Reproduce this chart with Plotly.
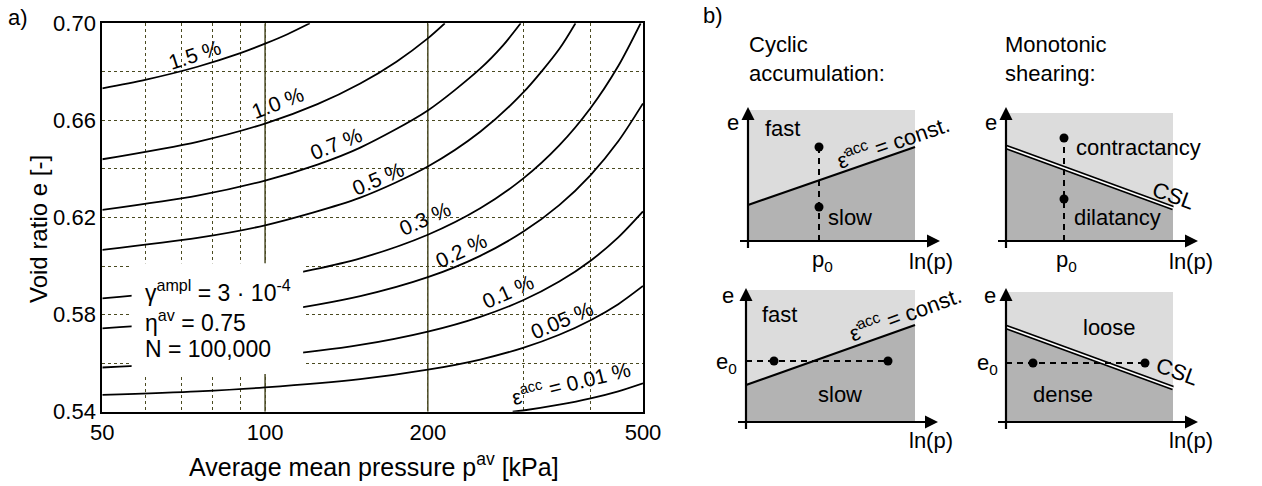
import math
import plotly.graph_objects as go

W, H = 1262, 486
FONT = "Liberation Sans, Arial, Helvetica, sans-serif"

# ---------------- panel a) data : iso-strain curves (p [kPa], e [-]) ----------------
p_15 = [50, 60, 75, 90, 100, 110, 121]
e_15 = [0.6732, 0.6767, 0.6821, 0.6877, 0.6916, 0.6955, 0.7000]

p_10 = [50, 75, 100, 125, 150, 175, 200, 215]
e_10 = [0.6440, 0.6512, 0.6587, 0.6667, 0.6752, 0.6842, 0.6938, 0.7000]

p_07 = [50, 75, 100, 125, 150, 200, 250, 275, 297]
e_07 = [0.6231, 0.6290, 0.6352, 0.6418, 0.6488, 0.6641, 0.6813, 0.6907, 0.7000]

p_05 = [50, 75, 100, 150, 200, 250, 300, 350, 375]
e_05 = [0.6067, 0.6116, 0.6168, 0.6282, 0.6410, 0.6553, 0.6714, 0.6894, 0.7000]

p_03 = [50, 75, 100, 150, 200, 250, 300, 350, 400, 450, 495]
e_03 = [0.5867, 0.5905, 0.5945, 0.6032, 0.6129, 0.6238, 0.6360, 0.6497, 0.6651, 0.6824, 0.7000]

p_02 = [50, 75, 100, 150, 200, 250, 300, 350, 400, 450, 500]
e_02 = [0.5743, 0.5773, 0.5806, 0.5876, 0.5954, 0.6042, 0.6141, 0.6251, 0.6375, 0.6514, 0.6670]

p_01 = [50, 75, 100, 150, 200, 250, 300, 350, 400, 450, 500]
e_01 = [0.5582, 0.5603, 0.5626, 0.5675, 0.5730, 0.5791, 0.5859, 0.5936, 0.6022, 0.6118, 0.6225]

p_005 = [50, 75, 100, 150, 200, 250, 300, 350, 400, 450, 500]
e_005 = [0.5469, 0.5484, 0.5500, 0.5534, 0.5573, 0.5615, 0.5663, 0.5717, 0.5777, 0.5843, 0.5918]

p_001 = [287, 300, 350, 400, 450, 500]
e_001 = [0.5400, 0.5405, 0.5429, 0.5455, 0.5484, 0.5517]

curves = [(p_15, e_15), (p_10, e_10), (p_07, e_07), (p_05, e_05), (p_03, e_03),
          (p_02, e_02), (p_01, e_01), (p_005, e_005), (p_001, e_001)]

curve_labels = ["1.5 %", "1.0 %", "0.7 %", "0.5 %", "0.3 %", "0.2 %", "0.1 %", "0.05 %",
                "ε<sup>acc</sup> = 0.01 %"]

x_tickvals = [50, 100, 200, 500]
x_ticktext = ["50", "100", "200", "500"]
x_minor = [60, 70, 80, 90, 300, 400]
y_tickvals = [0.54, 0.58, 0.62, 0.66, 0.70]
y_ticktext = ["0.54", "0.58", "0.62", "0.66", "0.70"]
y_minor = [0.56, 0.60, 0.64, 0.68]
solid_p = [100, 200]
e_range = [0.54, 0.70]

# white parameter box (p, e corners)
box_p = [56.65, 117.6, 117.6, 56.65, 56.65]
box_e = [0.6012, 0.6012, 0.5555, 0.5555, 0.6012]
param_lines = ["γ<sup>ampl</sup> = 3 · 10<sup>-4</sup>", "η<sup>av</sup> = 0.75", "N = 100,000"]

# ---------------- panel b) schematic data (diagram units, origin at axes crossing) ----------------
# top-left: cyclic, p0
tl_rect_x = [0, 1.67, 1.67, 0, 0]
tl_rect_y = [0, 0, 1.31, 1.31, 0]
tl_line_x = [0, 1.67]
tl_line_y = [0.36, 0.94]
tl_dash_x = [0.71, 0.71]
tl_dash_y = [0, 0.94]
tl_dot_x = [0.71, 0.71]
tl_dot_y = [0.94, 0.34]
# top-right: monotonic, p0
tr_rect_x = [0, 1.67, 1.67, 0, 0]
tr_rect_y = [0, 0, 1.28, 1.28, 0]
tr_line_x = [0, 1.67]
tr_line_y = [0.94, 0.33]
tr_dash_x = [0.58, 0.58]
tr_dash_y = [0, 1.03]
tr_dot_x = [0.58, 0.58]
tr_dot_y = [1.03, 0.42]
# bottom-left: cyclic, e0
bl_rect_x = [0, 1.69, 1.69, 0, 0]
bl_rect_y = [0, 0, 1.32, 1.32, 0]
bl_line_x = [0, 1.69]
bl_line_y = [0.37, 0.97]
bl_dash_x = [0, 1.42]
bl_dash_y = [0.61, 0.61]
bl_dot_x = [0.28, 1.42]
bl_dot_y = [0.61, 0.61]
# bottom-right: monotonic, e0
br_rect_x = [0, 1.67, 1.67, 0, 0]
br_rect_y = [0, 0, 1.30, 1.30, 0]
br_line_x = [0, 1.67]
br_line_y = [0.95, 0.34]
br_dash_x = [0, 1.39]
br_dash_y = [0.59, 0.59]
br_dot_x = [0.27, 1.39]
br_dot_y = [0.59, 0.59]

# diagram axes (horizontal: ln(p), vertical: e) with arrow tips
axis_h_x = [-0.08, 1.80]
axis_h_y = [0, 0]
axis_v_x = [0, 0]
axis_v_y = [-0.07, 1.22]
tip_h = (1.92, 0)
tip_v = (0, 1.34)

LIGHT = "#dcdcdc"
DARK = "#b3b3b3"
GRID = "#4a4a20"


def px(x):
    return x / W


def py(y):
    return 1 - y / H


fig = go.Figure()

# ---------- panel a ----------
for p0 in solid_p:
    fig.add_trace(go.Scatter(x=[p0, p0], y=e_range, mode="lines",
                             line=dict(color="#4b4b25", width=1.5),
                             hoverinfo="skip", showlegend=False, xaxis="x", yaxis="y"))
for (pp, ee) in curves:
    fig.add_trace(go.Scatter(x=pp, y=ee, mode="lines", line=dict(color="black", width=1.8, shape="spline", smoothing=0.8),
                             hoverinfo="skip", showlegend=False, xaxis="x", yaxis="y"))
fig.add_trace(go.Scatter(x=box_p, y=box_e, mode="lines", fill="toself", fillcolor="white",
                         line=dict(color="white", width=0), hoverinfo="skip", showlegend=False,
                         xaxis="x", yaxis="y"))

# ---------- panel b ----------
diagrams = [
    ("x2", "y2", tl_rect_x, tl_rect_y, tl_line_x, tl_line_y, tl_dash_x, tl_dash_y, tl_dot_x, tl_dot_y, False),
    ("x3", "y3", tr_rect_x, tr_rect_y, tr_line_x, tr_line_y, tr_dash_x, tr_dash_y, tr_dot_x, tr_dot_y, True),
    ("x4", "y4", bl_rect_x, bl_rect_y, bl_line_x, bl_line_y, bl_dash_x, bl_dash_y, bl_dot_x, bl_dot_y, False),
    ("x5", "y5", br_rect_x, br_rect_y, br_line_x, br_line_y, br_dash_x, br_dash_y, br_dot_x, br_dot_y, True),
]
for (xa, ya, rx, ry, lx, ly, dx, dy, ox, oy, csl) in diagrams:
    fig.add_trace(go.Scatter(x=rx, y=ry, mode="lines", fill="toself", fillcolor=LIGHT,
                             line=dict(width=0, color=LIGHT), hoverinfo="skip", showlegend=False,
                             xaxis=xa, yaxis=ya))
    poly_x = [lx[0], lx[0], lx[1], lx[1], lx[0]]
    poly_y = [0, ly[0], ly[1], 0, 0]
    fig.add_trace(go.Scatter(x=poly_x, y=poly_y, mode="lines", fill="toself", fillcolor=DARK,
                             line=dict(width=0, color=DARK), hoverinfo="skip", showlegend=False,
                             xaxis=xa, yaxis=ya))
    if csl:
        fig.add_trace(go.Scatter(x=lx, y=ly, mode="lines", line=dict(color="black", width=5),
                                 hoverinfo="skip", showlegend=False, xaxis=xa, yaxis=ya))
        fig.add_trace(go.Scatter(x=lx, y=ly, mode="lines", line=dict(color="white", width=1.5),
                                 hoverinfo="skip", showlegend=False, xaxis=xa, yaxis=ya))
    else:
        fig.add_trace(go.Scatter(x=lx, y=ly, mode="lines", line=dict(color="black", width=2.2),
                                 hoverinfo="skip", showlegend=False, xaxis=xa, yaxis=ya))
    fig.add_trace(go.Scatter(x=dx, y=dy, mode="lines", line=dict(color="black", width=2, dash="6px,5px"),
                             hoverinfo="skip", showlegend=False, xaxis=xa, yaxis=ya))
    fig.add_trace(go.Scatter(x=ox, y=oy, mode="markers", marker=dict(color="black", size=9),
                             hoverinfo="skip", showlegend=False, xaxis=xa, yaxis=ya))
    # axes with arrow heads
    fig.add_trace(go.Scatter(x=axis_h_x, y=axis_h_y, mode="lines", line=dict(color="black", width=2.2),
                             hoverinfo="skip", showlegend=False, xaxis=xa, yaxis=ya))
    fig.add_trace(go.Scatter(x=axis_v_x, y=axis_v_y, mode="lines", line=dict(color="black", width=2.2),
                             hoverinfo="skip", showlegend=False, xaxis=xa, yaxis=ya))
    fig.add_trace(go.Scatter(x=[tip_h[0]], y=[tip_h[1]], mode="markers",
                             marker=dict(symbol="arrow-right", size=13, color="black", line=dict(width=0)),
                             hoverinfo="skip", showlegend=False, xaxis=xa, yaxis=ya))
    fig.add_trace(go.Scatter(x=[tip_v[0]], y=[tip_v[1]], mode="markers",
                             marker=dict(symbol="arrow-up", size=13, color="black", line=dict(width=0)),
                             hoverinfo="skip", showlegend=False, xaxis=xa, yaxis=ya))

annotations = []


def txt(x, y, s, size=20, angle=0, xanchor="center", yanchor="middle"):
    annotations.append(dict(x=px(x), y=py(y), xref="paper", yref="paper", text=s, showarrow=False,
                            font=dict(family=FONT, size=size, color="black"), textangle=angle,
                            xanchor=xanchor, yanchor=yanchor))


BF = 22  # panel b font size

# panel labels
txt(18, 17, "a)", 22)
txt(713, 16, "b)", 22)

# axis titles panel a
txt(38, 229, "Void ratio e [-]", 24, angle=-90)
txt(374, 465, "Average mean pressure p<sup>av</sup> [kPa]", 25)

# curve labels (pixel centres, angles)
label_pos = [(195, 55, -18), (278, 103, -21), (336, 143, -22), (378, 178, -23), (425, 218, -24),
             (461, 250, -25), (508, 291, -24), (561, 320, -23), (571, 382, -14)]
for s, (lx_, ly_, ang) in zip(curve_labels, label_pos):
    txt(lx_, ly_, s, 21, angle=ang)

# parameter box text
for s, yy in zip(param_lines, [291, 321, 349]):
    txt(143, yy, s, 23, xanchor="left")

# panel b titles
txt(747, 45, "Cyclic", BF, xanchor="left")
txt(747, 73, "accumulation:", BF, xanchor="left")
txt(1003, 45, "Monotonic", BF, xanchor="left")
txt(1003, 73, "shearing:", BF, xanchor="left")

# top-left texts
txt(733, 122, "e", BF)
txt(782, 128, "fast", BF)
txt(850, 217, "slow", BF)
txt(822, 261, "p<sub>0</sub>", BF)
txt(931, 261, "ln(p)", BF)
txt(893, 141, "\u03b5\u0307<sup>acc</sup> = const.", BF, angle=-19)
# top-right texts
txt(991, 122, "e", BF)
txt(1138, 147, "contractancy", BF)
txt(1117, 217, "dilatancy", BF)
txt(1173, 196, "CSL", BF, angle=20)
txt(1066, 261, "p<sub>0</sub>", BF)
txt(1191, 261, "ln(p)", BF)
# bottom-left texts
txt(728, 295, "e", BF)
txt(727, 363, "e<sub>0</sub>", BF)
txt(779, 314, "fast", BF)
txt(840, 394, "slow", BF)
txt(905, 313, "\u03b5\u0307<sup>acc</sup> = const.", BF, angle=-20)
txt(931, 440, "ln(p)", BF)
# bottom-right texts
txt(990, 295, "e", BF)
txt(987, 364, "e<sub>0</sub>", BF)
txt(1109, 327, "loose", BF)
txt(1063, 394, "dense", BF)
txt(1177, 371, "CSL", BF, angle=20)
txt(1191, 440, "ln(p)", BF)

# ---------- layout ----------
layout = dict(
    template="none",
    width=W, height=H, margin=dict(l=0, r=0, t=0, b=0, pad=0),
    paper_bgcolor="white", plot_bgcolor="white", showlegend=False,
    font=dict(family=FONT, size=20, color="black"),
    xaxis=dict(type="log", range=[math.log10(50), math.log10(500)], domain=[px(102.3), px(643)],
               tickmode="array", tickvals=x_tickvals, ticktext=x_ticktext, ticks="", tickfont=dict(size=22),
               showgrid=True, gridcolor=GRID, griddash="dot", gridwidth=1.2,
               minor=dict(tickvals=x_minor, showgrid=True, gridcolor=GRID, griddash="dot", gridwidth=1.2, ticks=""),
               showline=True, linecolor="black", linewidth=2, mirror=True, zeroline=False,
               automargin=False, anchor="y"),
    yaxis=dict(range=[0.54, 0.70], domain=[py(411.7), py(23.3)],
               tickmode="array", tickvals=y_tickvals, ticktext=y_ticktext, ticks="", tickfont=dict(size=22),
               showgrid=True, gridcolor=GRID, griddash="dot", gridwidth=1.2,
               minor=dict(tickvals=y_minor, showgrid=True, gridcolor=GRID, griddash="dot", gridwidth=1.2, ticks=""),
               showline=True, linecolor="black", linewidth=2, mirror=True, zeroline=False,
               automargin=False, anchor="x"),
    annotations=annotations,
)

# schematic axes: 100 px per unit; domain [origin-20, origin+210] x, [origin+30, origin-150] y
origins = {"2": (748, 241), "3": (1006, 241), "4": (746, 422), "5": (1006, 422)}
for k, (oxp, oyp) in origins.items():
    layout["xaxis" + k] = dict(domain=[px(oxp - 20), px(oxp + 210)], range=[-0.2, 2.1], visible=False,
                               anchor="y" + k, fixedrange=True, automargin=False)
    layout["yaxis" + k] = dict(domain=[py(oyp + 30), py(oyp - 150)], range=[-0.3, 1.5], visible=False,
                               anchor="x" + k, fixedrange=True, automargin=False)

fig.update_layout(**layout)
fig.write_html("out.html")
